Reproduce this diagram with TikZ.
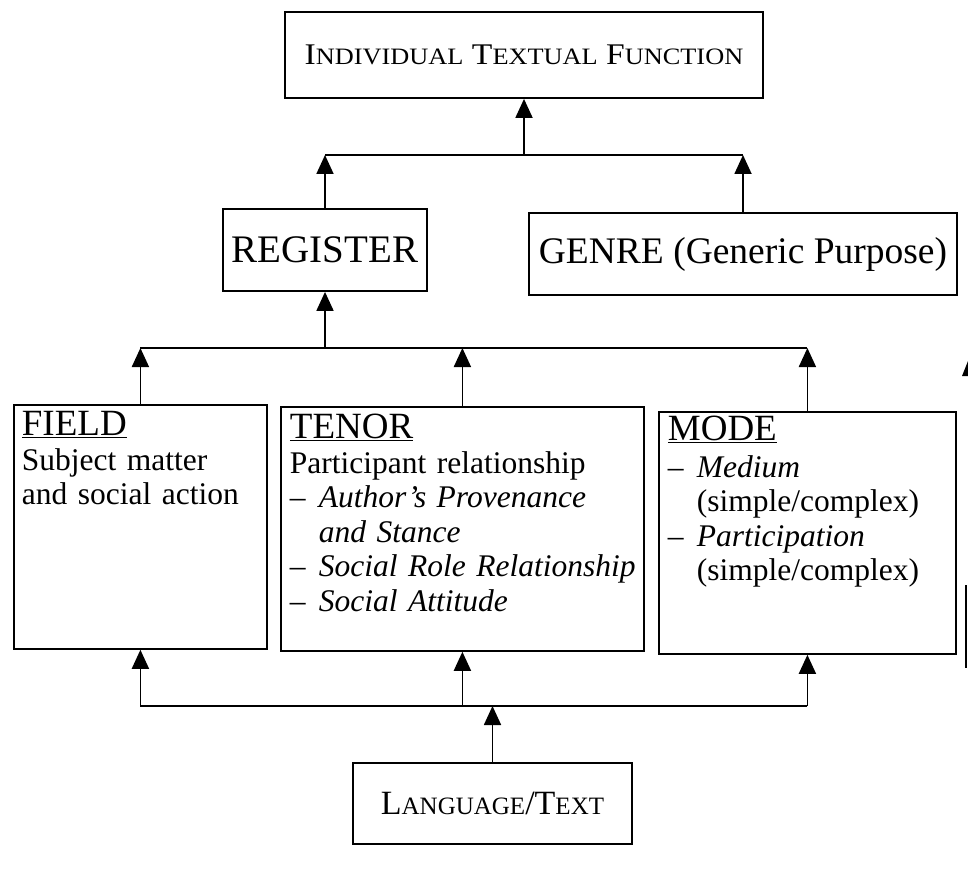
\documentclass[tikz,border=0pt]{standalone}
\usepackage{fontspec}
\setmainfont{Liberation Serif}
\usetikzlibrary{arrows.meta}

% small capitals put together by hand
\newcommand{\scword}[2]{#1{\fontsize{\scsmall}{\scsmall}\selectfont#2}}
\newcommand{\dashitem}[1]{\mbox{\makebox[29pt][l]{--}\textit{#1}}}
\newcommand{\hangline}[1]{\mbox{\hspace*{29pt}#1}}

\tikzset{
  every picture/.style={line width=1.8pt},
  arr/.style={-{Triangle[length=19pt,width=17pt]}},
  headbox/.style={draw, inner sep=0pt},
  listbox/.style={draw, anchor=north west, inner ysep=0pt, align=left, font=\fontsize{31.5}{34.5}\selectfont},
}

\begin{document}
\begin{tikzpicture}[x=1pt,y=1pt,yscale=-1,xscale=1]
    \useasboundingbox (0,0) rectangle (968,877);

    % Text Node
    \node [headbox, minimum width=478pt, minimum height=86pt, font=\fontsize{30}{34}\selectfont\def\scsmall{23.5}] (itf) at (524,55)
      {\scalebox{1.12}[1]{\scword{I}{NDIVIDUAL} \scword{T}{EXTUAL} \scword{F}{UNCTION}}};
    % Text Node
    \node [headbox, minimum width=204pt, minimum height=82pt, font=\fontsize{39}{44}\selectfont] (register) at (325,250) {REGISTER};
    % Text Node
    \node [headbox, minimum width=428pt, minimum height=82pt, font=\fontsize{37.5}{44}\selectfont] (genre) at (743,254) {GENRE (Generic Purpose)};

    % Text Node
    \node [listbox, inner xsep=8pt, text width=237pt, text height=31pt, text depth=213pt] (field) at (13,404)
      {{\fontsize{37}{34.5}\selectfont\underline{FIELD}}\\
       Subject matter\\
       and social action};
    % Text Node
    \node [listbox, inner xsep=9pt, text width=345pt, text height=32pt, text depth=212pt] (tenor) at (280,406)
      {{\fontsize{37}{34.5}\selectfont\underline{TENOR}}\\
       Participant relationship\\
       \dashitem{Author's Provenance}\\
       \hangline{\textit{and Stance}}\\
       \dashitem{Social Role Relationship}\\
       \dashitem{Social Attitude}};
    % Text Node
    \node [listbox, inner xsep=9pt, text width=279pt, text height=29pt, text depth=213pt] (mode) at (658,411)
      {{\fontsize{37}{34.5}\selectfont\underline{MODE}}\\[2pt]
       \dashitem{Medium}\\
       \hangline{(simple/complex)}\\
       \dashitem{Participation}\\
       \hangline{(simple/complex)}};

    % Text Node
    \node [headbox, minimum width=279pt, minimum height=81pt, font=\fontsize{34}{40}\selectfont\def\scsmall{25}] (language) at (492.5,803.5)
      {\scword{L}{ANGUAGE}/\scword{T}{EXT}};

    % bars joining the arrows
    \coordinate (tbar) at (0,155);
    \coordinate (mbar) at (0,348);
    \coordinate (bbar) at (0,706);

    %Shape: upper bar
    \draw (register.north |- tbar) -- (genre.north |- tbar);
    \draw [arr] (itf.south |- tbar) -- (itf.south);
    \draw [arr] (register.north) -- (register.north |- tbar);
    \draw [arr] (genre.north) -- (genre.north |- tbar);

    %Shape: middle bar
    \draw (field.north |- mbar) -- (mode.north |- mbar);
    \draw [arr] (register.south |- mbar) -- (register.south);
    \foreach \nm in {field,tenor,mode}
      \draw [arr] (\nm.north) -- (\nm.north |- mbar);

    %Shape: lower bar
    \draw (field.south |- bbar) -- (mode.south |- bbar);
    \draw [arr] (language.north) -- (language.north |- bbar);
    \foreach \nm in {field,tenor,mode}
      \draw [arr] (\nm.south |- bbar) -- (\nm.south);

    %Shape: fragments at the right edge
    \fill (970,356) -- (962,376) -- (978,376) -- cycle;
    \draw (966,585) -- (966,668);
\end{tikzpicture}
\end{document}
